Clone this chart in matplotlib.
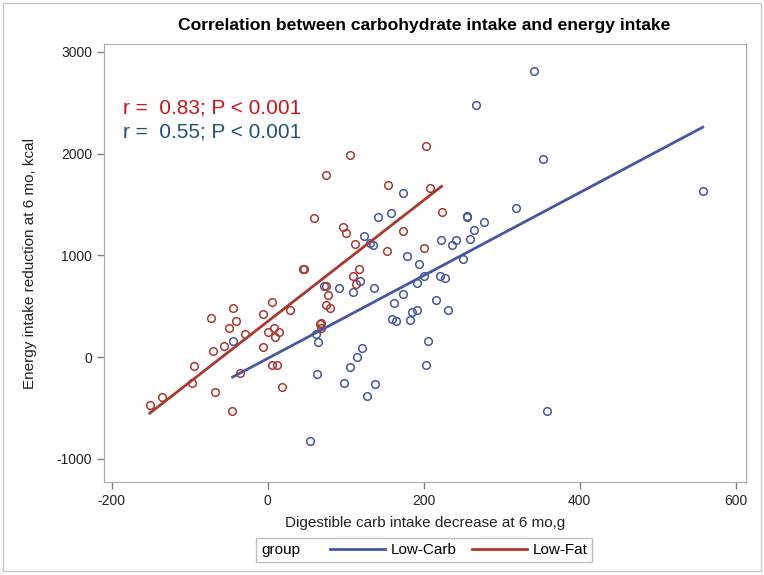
import matplotlib
matplotlib.use('Agg')
import matplotlib.pyplot as plt
import numpy as np
from matplotlib.lines import Line2D
from matplotlib.patches import Rectangle
from matplotlib.offsetbox import HPacker

plt.rcParams['axes.unicode_minus'] = False

# Low-Carb group: carb intake decrease (g) vs energy intake reduction (kcal)
lc_carb = [341, 267, 173, 141, 158, 255, 256, 277, 318, 123, 131, 135, 222, 236,
           241, 259, 265, 179, 251, 353, 558, -45, 54, 64, 63, 62, 118, 110, 92,
           136, 72, 194, 200, 192, 221, 227, 173, 162, 216, 231, 185, 191, 159,
           164, 183, 206, 203, 121, 115, 105, 98, 138, 128, 358]
lc_energy = [2812, 2478, 1612, 1377, 1416, 1377, 1387, 1327, 1465, 1190, 1121, 1101,
             1150, 1101, 1150, 1160, 1249, 993, 963, 1947, 1632, 157, -826, 145,
             -167, 226, 747, 639, 678, 678, 698, 914, 796, 727, 796, 777, 619, 531,
             560, 462, 442, 462, 374, 354, 364, 157, -79, 88, 0, -98, -255, -265,
             -383, -531]

# Low-Fat group
lf_carb = [203, 105, 75, 154, 208, 60, 223, 96, 101, 112, 174, 153, 200, 45, 47,
           6, 29, -73, -45, -41, -50, -29, -6, 1, 8, 14, 9, -56, -70, -95, -6, 6,
           12, -36, -97, 18, -68, -135, -151, -46, 67, 117, 110, 113, 75, 77, 75,
           80, 69, 68]
lf_energy = [2075, 1986, 1790, 1690, 1662, 1367, 1426, 1278, 1219, 1111, 1239, 1042,
             1072, 865, 870, 541, 462, 384, 482, 354, 285, 226, 423, 246, 285, 246,
             197, 108, 59, -88, 98, -79, -79, -157, -255, -295, -344, -393, -472,
             -531, 324, 865, 796, 718, 698, 610, 511, 482, 334, 285]

# regression lines (slope, intercept)
lc_fit = (4.075, -14)
lf_fit = (5.96, 349)

groups = ['Low-Carb', 'Low-Fat']
stats_text = ['r =  0.83; P < 0.001', 'r =  0.55; P < 0.001']

blue = '#4457a0'
red = '#a8392f'
font = 'Liberation Sans'

fig = plt.figure(figsize=(7.64, 5.75), dpi=100)
ax = fig.add_axes([0.136, 0.1617, 0.84, 0.7618])

ax.plot(lc_carb, lc_energy, 'o', mfc='none', mec=blue, ms=5.5, mew=1.1)
ax.plot(lf_carb, lf_energy, 'o', mfc='none', mec=red, ms=5.5, mew=1.1)

for xs, fit, c in [(lc_carb, lc_fit, blue), (lf_carb, lf_fit, red)]:
    xx = np.array([min(xs), max(xs)])
    ax.plot(xx, fit[0] * xx + fit[1], color=c, lw=2)

ax.set_xlim(-210, 613)
ax.set_ylim(-1229, 3078)
ax.set_xticks([-200, 0, 200, 400, 600])
ax.set_yticks([-1000, 0, 1000, 2000, 3000])

for s in ax.spines.values():
    s.set_color('#a8a8a8')
ax.tick_params(colors='#808080', labelcolor='#222222', length=5, width=1)
for lab in ax.get_xticklabels() + ax.get_yticklabels():
    lab.set_family(font)
    lab.set_fontsize(10)

ax.set_xlabel('Digestible carb intake decrease at 6 mo,g', family=font,
              fontsize=11, color='#222222', labelpad=6)
ax.set_ylabel('Energy intake reduction at 6 mo, kcal', family=font,
              fontsize=11, color='#222222', labelpad=14)

ax.text(0.030, 0.855, stats_text[0], transform=ax.transAxes, color='#c8161b',
        fontsize=15, family=font, va='center')
ax.text(0.030, 0.800, stats_text[1], transform=ax.transAxes, color='#23507f',
        fontsize=15, family=font, va='center')

fig.text(0.5557, 0.9565, 'Correlation between carbohydrate intake and energy intake',
         ha='center', va='center', fontsize=12.6, fontweight='bold', family=font)

handles = [Line2D([], [], color=blue, lw=2), Line2D([], [], color=red, lw=2)]
leg = fig.legend(handles, groups, title='group', ncol=2, loc='center',
                 bbox_to_anchor=(0.555, 0.0435), frameon=True, fancybox=False,
                 edgecolor='#b0b0b0', handlelength=3.6, handletextpad=0.35,
                 columnspacing=1.0, borderpad=0.3, prop={'family': font, 'size': 11})
leg.get_title().set_family(font)
leg.get_title().set_fontsize(11)
leg._legend_box = HPacker(pad=0.3 * 11, sep=22, align='center',
                          children=[leg._legend_title_box, leg._legend_handle_box])
leg._legend_box.set_figure(fig)
leg._legend_box.set_offset(leg._findoffset)

fig.patches.append(Rectangle((0.004, 0.007), 0.992, 0.988, transform=fig.transFigure,
                             fill=False, edgecolor='#c8c8c8', lw=1))

plt.savefig('out.png', dpi=100)
plt.close(fig)
